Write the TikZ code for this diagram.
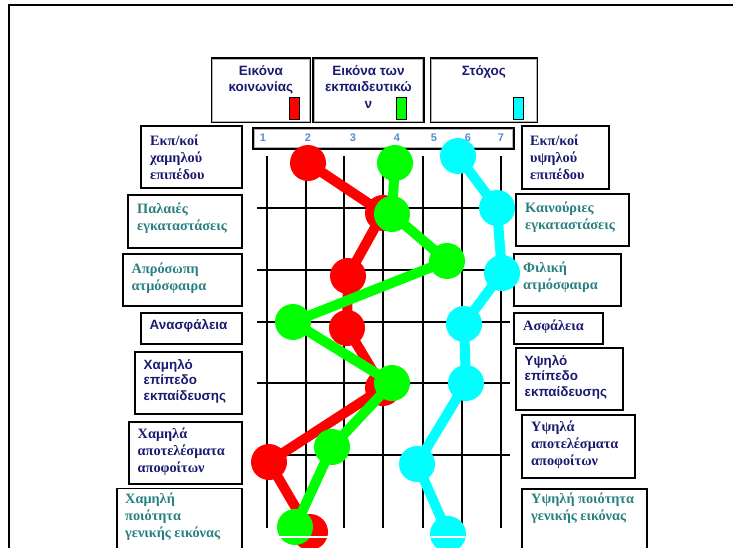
\documentclass[tikz,border=0pt]{standalone}
\usepackage{fontspec}
\setmainfont{Liberation Serif}
\newfontfamily\arialf{Liberation Sans}
\usetikzlibrary{calc}
\definecolor{navy}{RGB}{26,26,112}
\definecolor{tealx}{RGB}{40,128,128}
\definecolor{numblue}{RGB}{85,140,205}
\definecolor{pred}{RGB}{255,0,0}
\definecolor{pgreen}{RGB}{0,255,0}
\definecolor{pcyan}{RGB}{0,255,255}
\tikzset{
  boxst/.style={draw=black, line width=1.8, fill=white, anchor=north west, inner sep=0},
  lbl/.style={anchor=west, align=left, inner sep=0},
  sernavy/.style={lbl, text=navy, font=\fontsize{14.3}{17}\selectfont\bfseries},
  serteal/.style={lbl, text=tealx, font=\fontsize{14.3}{17}\selectfont\bfseries},
  sansnavy/.style={lbl, text=navy, font=\arialf\fontsize{13.4}{15.5}\selectfont\bfseries},
  legtxt/.style={anchor=north, align=center, inner sep=0, text=navy, font=\arialf\fontsize{13.5}{16.5}\selectfont\bfseries},
  numst/.style={inner sep=0, text=numblue, font=\arialf\fontsize{11}{12}\selectfont\bfseries},
  grid/.style={draw=black, line width=2},
  dot/.style={circle, minimum size=36, inner sep=0},
  rdot/.style={dot, fill=pred},
  gdot/.style={dot, fill=pgreen},
  cdot/.style={dot, fill=pcyan},
  rline/.style={draw=pred, line width=10},
  gline/.style={draw=pgreen, line width=10},
  cline/.style={draw=pcyan, line width=10},
  swatch/.style={draw=black, line width=1.4, inner sep=0, minimum width=10, minimum height=22, anchor=north west}
}
\begin{document}
\begin{tikzpicture}[x=1pt,y=-1pt]
\useasboundingbox (0,0) rectangle (733,548);
\clip (0,0) rectangle (733,548);
\fill[white] (0,0) rectangle (733,548);
% frame
\draw[line width=2] (9,560) -- (9,5.5) -- (740,5.5);

% legend boxes
\node[boxst, minimum width=99, minimum height=64] (K1) at (210.5,57.5) {};
\node[boxst, minimum width=111, minimum height=64] (K2) at (312,57.5) {};
\node[boxst, minimum width=107, minimum height=64] (K3) at (429.5,57.5) {};
\foreach \k in {K1,K2,K3}{
  \draw[gray!60, line width=0.8] ($(\k.north west)+(2.3,2.3)$) rectangle ($(\k.south east)+(-2.3,-2.3)$);
}
\node[legtxt] (K1t) at (K1.north |- 0,65) {Εικόνα\\κοινωνίας};
\node[legtxt] (K2t) at (K2.north |- 0,65) {Εικόνα των\\εκπαιδευτικώ\\ν};
\node[legtxt] (K3t) at (K3.north |- 0,65) {Στόχος};
\node[swatch, fill=pred] (S1) at (288.5,97) {};
\node[swatch, fill=pgreen] (S2) at (396,97) {};
\node[swatch, fill=pcyan] (S3) at (512.5,97) {};

% number box
\node[boxst, minimum width=261, minimum height=21] (NB) at (252,127) {};
\draw[gray!60, line width=0.8] ($(NB.north west)+(2.3,2.3)$) rectangle ($(NB.south east)+(-2.3,-2.3)$);
\node[numst] (n1) at (263,138) {1};
\node[numst] (n2) at (308,138) {2};
\node[numst] (n3) at (353,138) {3};
\node[numst] (n4) at (397,138) {4};
\node[numst] (n5) at (434,138) {5};
\node[numst] (n6) at (468,138) {6};
\node[numst] (n7) at (501,138) {7};

% grid
\foreach \x in {267,306,344,383,423,462,501}{
  \draw[grid] (\x,156) -- (\x,528);
}
\foreach \y in {208,270,322,383,455}{
  \draw[grid] (257,\y) -- (510,\y);
}

% left boxes
\node[boxst, minimum width=101, minimum height=62] (L1) at (140,125) {};
\node[boxst, minimum width=114, minimum height=53] (L2) at (127,194) {};
\node[boxst, minimum width=119, minimum height=52] (L3) at (122,253) {};
\node[boxst, minimum width=101, minimum height=31] (L4) at (140,312) {};
\node[boxst, minimum width=107, minimum height=62] (L5) at (134,351) {};
\node[boxst, minimum width=113, minimum height=62] (L6) at (128,421) {};
\node[boxst, minimum width=125, minimum height=80] (L7) at (116,487.5) {};
\node[sernavy] (L1t) at (150,157) {Εκπ/κοί\\χαμηλού\\επιπέδου};
\node[serteal] (L2t) at (137,218) {Παλαιές\\εγκαταστάσεις};
\node[serteal] (L3t) at (131.5,278) {Απρόσωπη\\ατμόσφαιρα};
\node[sansnavy] (L4t) at (149.5,326) {Ανασφάλεια};
\node[sansnavy] (L5t) at (143.5,381) {Χαμηλό\\επίπεδο\\εκπαίδευσης};
\node[sernavy] (L6t) at (137.5,452) {Χαμηλά\\αποτελέσματα\\αποφοίτων};
\node[serteal, anchor=north west] (L7t) at (125,493) {Χαμηλή\\ποιότητα\\γενικής εικόνας};

% right boxes
\node[boxst, minimum width=87, minimum height=63] (R1) at (521,125) {};
\node[boxst, minimum width=113, minimum height=52] (R2) at (515,193) {};
\node[boxst, minimum width=107, minimum height=52] (R3) at (513,253) {};
\node[boxst, minimum width=89, minimum height=31] (R4) at (513,312) {};
\node[boxst, minimum width=107, minimum height=62] (R5) at (515,347) {};
\node[boxst, minimum width=113, minimum height=63] (R6) at (521,414) {};
\node[boxst, minimum width=125, minimum height=80] (R7) at (521,488) {};
\node[sernavy] (R1t) at (530,157) {Εκπ/κοί\\υψηλού\\επιπέδου};
\node[serteal] (R2t) at (525,217) {Καινούριες\\εγκαταστάσεις};
\node[serteal] (R3t) at (523,277) {Φιλική\\ατμόσφαιρα};
\node[sernavy] (R4t) at (523,327) {Ασφάλεια};
\node[sansnavy] (R5t) at (524.5,377) {Υψηλό\\επίπεδο\\εκπαίδευσης};
\node[sernavy] (R6t) at (531,445) {Υψηλά\\αποτελέσματα\\αποφοίτων};
\node[serteal, anchor=north west] (R7t) at (531,493) {Υψηλή ποιότητα\\γενικής εικόνας};

% red series
\node[rdot] (r1) at (308,163) {};
\node[rdot] (r2) at (383,213) {};
\node[rdot] (r3) at (348,276) {};
\node[rdot] (r4) at (347,328) {};
\node[rdot] (r5) at (383,388) {};
\node[rdot] (r6) at (269,462) {};
\node[rdot] (r7) at (310,532) {};
\draw[rline] (r1.center) -- (r2.center) -- (r3.center) -- (r4.center) -- (r5.center) -- (r6.center) -- (r7.center);

% green series
\node[gdot] (g1) at (395,163) {};
\node[gdot] (g2) at (392,214) {};
\node[gdot] (g3) at (447,261) {};
\node[gdot] (g4) at (293,322) {};
\node[gdot] (g5) at (392,383) {};
\node[gdot] (g6) at (332,447) {};
\node[gdot] (g7) at (295,527) {};
\draw[gline] (g1.center) -- (g2.center) -- (g3.center) -- (g4.center) -- (g5.center) -- (g6.center) -- (g7.center);

% cyan series
\node[cdot] (c1) at (458,156) {};
\node[cdot] (c2) at (497,208) {};
\node[cdot] (c3) at (502,273) {};
\node[cdot] (c4) at (464,324) {};
\node[cdot] (c5) at (466,383) {};
\node[cdot] (c6) at (417,464) {};
\node[cdot] (c7) at (448,534) {};
\draw[cline] (c1.center) -- (c2.center) -- (c3.center) -- (c4.center) -- (c5.center) -- (c6.center) -- (c7.center);

% white cut line
\draw[white, line width=1.5] (250,537) -- (490,537);
\end{tikzpicture}
\end{document}
